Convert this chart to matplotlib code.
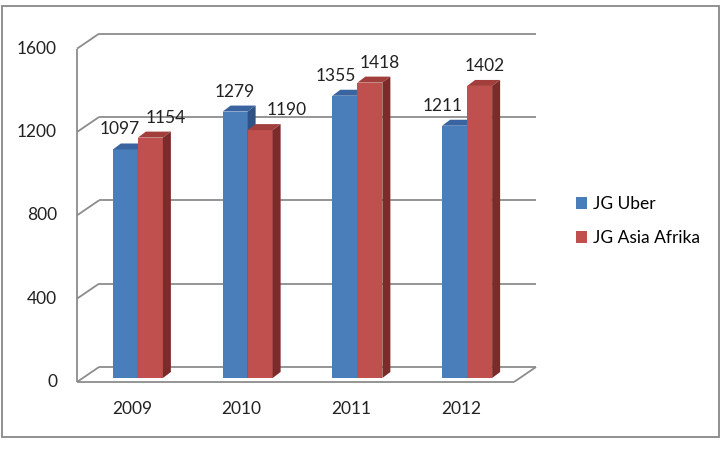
import matplotlib
matplotlib.use("Agg")
import matplotlib.pyplot as plt
from matplotlib.patches import Polygon, Rectangle
import numpy as np

categories = ["2009", "2010", "2011", "2012"]
series_names = ["JG Uber", "JG Asia Afrika"]
uber = [1097, 1279, 1355, 1211]
asia = [1154, 1190, 1418, 1402]
yticks = [0, 400, 800, 1200, 1600]
# label horizontal nudges (pixels), as Excel placed them
uber_lbl_dx = [-6, 0, -9, -12]
asia_lbl_dx = [15, 27, 10, 5]

W, H, DPI = 726, 450, 100
fig = plt.figure(figsize=(W / DPI, H / DPI), dpi=DPI)
plt.rcParams['font.family'] = ['Lato', 'DejaVu Sans']

# axes = bar plane; pixel geometry
x0p, x1p = 83, 522
y0p, y1p = 378, 44.7
ax = fig.add_axes([x0p / W, 1 - y0p / H, (x1p - x0p) / W, (y0p - y1p) / H])
ax.set_xlim(-0.5, 3.5)
ax.set_ylim(0, 1600)
ax.axis('off')

pxx = 4.0 / (x1p - x0p)      # data units per pixel (x)
pxy = 1600.0 / (y0p - y1p)   # data units per pixel (y)

grid_c = '#8c8c8c'
lw = 1.3
# front plane offset and back plane offset (pixels)
fdx, fdy = -6, -4
bdx, bdy = 16, 11

def P(x, y, dx=0, dy=0):
    return (x + dx * pxx, y + dy * pxy)

kw = dict(color=grid_c, lw=lw, clip_on=False, solid_capstyle='butt', zorder=1)
xl, xr = -0.5, 3.5
for v in yticks:
    a = P(xl, v, bdx, bdy); b = P(xr, v, bdx - 2, bdy)
    ax.plot([a[0], b[0]], [a[1], b[1]], **kw)
    c = P(xl, v, fdx, fdy)
    ax.plot([c[0], a[0]], [c[1], a[1]], **kw)
# front left vertical edge
c0 = P(xl, 0, fdx, fdy); c1 = P(xl, 1600, fdx, fdy)
ax.plot([c0[0], c1[0]], [c0[1], c1[1]], **kw)
# floor front and right edges
f0 = P(xl, 0, fdx, fdy); f1 = P(xr, 0, fdx - 2, fdy)
b1 = P(xr, 0, bdx - 2, bdy)
ax.plot([f0[0], f1[0]], [f0[1], f1[1]], **kw)
ax.plot([f1[0], b1[0]], [f1[1], b1[1]], **kw)

# y tick labels at front plane
for v in yticks:
    x, y = P(xl, v, fdx - 20, fdy)
    ax.text(x, y, f"{v}", ha='right', va='center', fontsize=12.5,
            color='#222222', clip_on=False)
# x tick labels
for i, c in enumerate(categories):
    x, y = P(i, 0, fdx, fdy - 27)
    ax.text(x, y, c, ha='center', va='center', fontsize=12.5,
            color='#222222', clip_on=False)

bw = 25 * pxx
ddx, ddy = 8, 6
colors = [('#4a7ebb', '#3a64a0', '#2f5285'), ('#c0504d', '#a23f3c', '#7b2c2a')]

def bar3d(xleft, h, cols, z):
    front, top, side = cols
    ax.add_patch(Rectangle((xleft, 0), bw, h, facecolor=front, edgecolor='none',
                           zorder=z, clip_on=False))
    ax.add_patch(Polygon([P(xleft, h), P(xleft + bw, h), P(xleft + bw, h, ddx, ddy),
                          P(xleft, h, ddx, ddy)], closed=True, facecolor=top,
                         edgecolor='none', zorder=z, clip_on=False))
    ax.add_patch(Polygon([P(xleft + bw, 0), P(xleft + bw, 0, ddx, ddy),
                          P(xleft + bw, h, ddx, ddy), P(xleft + bw, h)], closed=True,
                         facecolor=side, edgecolor='none', zorder=z, clip_on=False))

for i in range(len(categories)):
    bar3d(i - bw, uber[i], colors[0], 3)
    bar3d(i, asia[i], colors[1], 4)
    x, y = P(i - bw / 2, uber[i], uber_lbl_dx[i], 20)
    ax.text(x, y, f"{uber[i]}", ha='center', va='center', fontsize=12.5,
            color='#222222', zorder=6)
    x, y = P(i + bw / 2, asia[i], asia_lbl_dx[i], 20)
    ax.text(x, y, f"{asia[i]}", ha='center', va='center', fontsize=12.5,
            color='#222222', zorder=6)

# legend
handles = [Rectangle((0, 0), 1, 1, facecolor=colors[0][0]),
           Rectangle((0, 0), 1, 1, facecolor=colors[1][0])]
fig.legend(handles, series_names, loc='center left',
           bbox_to_anchor=(567 / W, 1 - 221 / H), frameon=False, fontsize=12.5,
           handlelength=0.65, handleheight=0.65, handletextpad=0.35,
           labelspacing=1.05, borderpad=0)

# outer chart border
fig.patches.append(Rectangle((2 / W, 1 - 437 / H), 717 / W, 431 / H,
                             transform=fig.transFigure, fill=False,
                             edgecolor='#888888', lw=1.3))

fig.savefig("out.png", dpi=DPI)
